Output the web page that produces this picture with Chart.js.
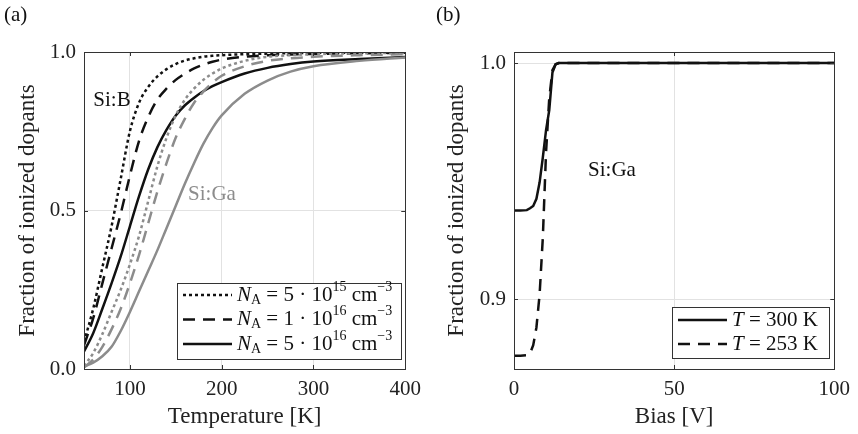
<!doctype html>
<html lang="en">
<head>
<meta charset="UTF-8">
<title>Fraction of ionized dopants</title>
<script src="https://cdn.jsdelivr.net/npm/chart.js@4.4.1/dist/chart.umd.min.js"></script>
<style>
  html, body { margin: 0; padding: 0; background: #fff; }
  .wrap { display: flex; width: 858px; height: 434px; }
  .panel { width: 429px; height: 434px; }
</style>
</head>
<body>
<div class="wrap">
  <div class="panel"><canvas id="chartA" width="429" height="434"></canvas></div>
  <div class="panel"><canvas id="chartB" width="429" height="434"></canvas></div>
</div>
<script>
// (a) fraction vs temperature, Si:B (black) and Si:Ga (gray)
const temps = [50, 60, 70, 80, 90, 100, 110, 120, 130, 140, 150, 160, 170, 180, 190, 200, 225, 250, 275, 300, 350, 400];
const bDot  = [0.085, 0.19, 0.32, 0.45, 0.60, 0.75, 0.84, 0.89, 0.923, 0.946, 0.962, 0.973, 0.980, 0.985, 0.988, 0.990, 0.993, 0.995, 0.996, 0.997, 0.998, 0.998];
const bDash = [0.075, 0.16, 0.27, 0.38, 0.49, 0.61, 0.72, 0.795, 0.85, 0.885, 0.912, 0.932, 0.948, 0.960, 0.969, 0.976, 0.985, 0.990, 0.992, 0.994, 0.996, 0.997];
const bSol  = [0.055, 0.113, 0.19, 0.27, 0.355, 0.45, 0.545, 0.63, 0.70, 0.755, 0.80, 0.832, 0.856, 0.876, 0.892, 0.905, 0.932, 0.950, 0.962, 0.970, 0.978, 0.984];
const gDot  = [0.01, 0.05, 0.11, 0.18, 0.25, 0.33, 0.42, 0.53, 0.64, 0.73, 0.80, 0.85, 0.885, 0.912, 0.932, 0.948, 0.972, 0.985, 0.990, 0.993, 0.996, 0.997];
const gDash = [0.005, 0.03, 0.07, 0.125, 0.19, 0.27, 0.36, 0.46, 0.56, 0.65, 0.73, 0.79, 0.84, 0.875, 0.903, 0.925, 0.955, 0.972, 0.980, 0.985, 0.990, 0.993];
const gSol  = [0.008, 0.02, 0.04, 0.07, 0.12, 0.18, 0.245, 0.31, 0.375, 0.445, 0.515, 0.585, 0.65, 0.71, 0.76, 0.80, 0.868, 0.910, 0.938, 0.955, 0.972, 0.983];
const tempTicks = [100, 200, 300, 400];
const fracTicks = [0, 0.5, 1];

// (b) fraction vs bias, Si:Ga
const bias   = [0, 2, 4, 5, 6, 7, 8, 9, 10, 11, 12, 13, 14, 20, 40, 60, 80, 100];
const t300 = [0.9375, 0.9375, 0.9377, 0.9385, 0.9395, 0.9425, 0.9495, 0.960, 0.9715, 0.980, 0.996, 0.9995, 1.0, 1.0, 1.0, 1.0, 1.0, 1.0];
const t253 = [0.876, 0.876, 0.8762, 0.877, 0.8805, 0.888, 0.902, 0.926, 0.962, 0.985, 0.997, 0.9995, 1.0, 1.0, 1.0, 1.0, 1.0, 1.0];
const biasTicks = [0, 50, 100];
const fracTicksB = [0.9, 1.0];

const SERIF = "'Liberation Serif', 'Times New Roman', serif";
const BLACK = '#111111';
const GRAY = '#8c8c8c';
const DOT = [3, 3];
const DASH = [12, 8];

Chart.defaults.font.family = SERIF;
Chart.defaults.color = '#222';

function pts(xs, ys) {
  return xs.map((x, i) => ({ x: x, y: ys[i] }));
}

function line(label, xs, ys, color, dash, smooth) {
  return {
    label: label,
    data: pts(xs, ys),
    borderColor: color,
    borderWidth: 2.5,
    borderDash: dash,
    borderCapStyle: 'butt',
    pointRadius: 0,
    fill: false,
    tension: 0,
    cubicInterpolationMode: smooth ? 'monotone' : 'default'
  };
}

// draw a run of text pieces (italic, sub, sup) starting at x
function richText(ctx, x, y, parts) {
  parts.forEach(p => {
    const size = p.small ? 14 : 21;
    ctx.font = (p.it ? 'italic ' : '') + size + 'px ' + SERIF;
    ctx.fillText(p.t, x, y + (p.dy || 0));
    x += ctx.measureText(p.t).width;
  });
}

// frame, inward ticks, legend and labels
const decor = {
  id: 'decor',
  afterDraw(chart, args, o) {
    const ctx = chart.ctx;
    const a = chart.chartArea;
    const xs = chart.scales.x, ys = chart.scales.y;
    ctx.save();
    ctx.strokeStyle = '#333';
    ctx.lineWidth = 1;
    ctx.beginPath();
    xs.ticks.forEach(t => {
      const px = Math.round(xs.getPixelForValue(t.value)) + 0.5;
      ctx.moveTo(px, a.bottom); ctx.lineTo(px, a.bottom - 4);
      ctx.moveTo(px, a.top); ctx.lineTo(px, a.top + 4);
    });
    ys.ticks.forEach(t => {
      const py = Math.round(ys.getPixelForValue(t.value)) + 0.5;
      ctx.moveTo(a.left, py); ctx.lineTo(a.left + 4, py);
      ctx.moveTo(a.right, py); ctx.lineTo(a.right - 4, py);
    });
    ctx.stroke();
    ctx.strokeRect(Math.round(a.left) + 0.5, Math.round(a.top) + 0.5,
      Math.round(a.right - a.left), Math.round(a.bottom - a.top));

    // legend box
    const L = o.legend;
    ctx.fillStyle = '#fff';
    ctx.fillRect(L.x, L.y, L.w, L.h);
    ctx.strokeRect(L.x + 0.5, L.y + 0.5, L.w, L.h);
    L.rows.forEach((r, i) => {
      const ds = chart.data.datasets[r.ds];
      const y = L.y + L.first + i * L.step;
      ctx.strokeStyle = ds.borderColor;
      ctx.lineWidth = ds.borderWidth;
      ctx.setLineDash(ds.borderDash || []);
      ctx.beginPath();
      ctx.moveTo(L.x + 6, y); ctx.lineTo(L.x + 55, y);
      ctx.stroke();
      ctx.setLineDash([]);
      ctx.fillStyle = BLACK;
      ctx.textBaseline = 'middle';
      ctx.textAlign = 'left';
      richText(ctx, L.x + 60, y, r.parts);
    });

    // panel letter and annotations
    ctx.textBaseline = 'middle';
    ctx.textAlign = 'left';
    ctx.font = '21px ' + SERIF;
    ctx.fillStyle = BLACK;
    ctx.fillText(o.letter.t, o.letter.x, o.letter.y);
    o.notes.forEach(n => {
      ctx.fillStyle = n.c;
      ctx.textAlign = 'center';
      ctx.fillText(n.t, n.x, n.y);
    });
    ctx.restore();
  }
};

function axis(min, max, ticks, title, fit, tpad) {
  return {
    type: 'linear',
    min: min,
    max: max,
    afterBuildTicks: s => { s.ticks = ticks.map(v => ({ value: v })); },
    afterFit: fit,
    grid: { color: '#e2e2e2', lineWidth: 1, drawTicks: false },
    border: { display: false },
    ticks: { font: { size: 21 }, padding: 8, maxRotation: 0 },
    title: { display: true, text: title, font: { size: 23 }, color: '#222', padding: tpad }
  };
}

const naRow = (m, e) => [
  { t: 'N', it: true }, { t: 'A', small: true, dy: 5 }, { t: ' = ' + m + ' · 10' },
  { t: e, small: true, dy: -8 }, { t: ' cm' }, { t: '−3', small: true, dy: -8 }
];

const xA = axis(50, 400, tempTicks, 'Temperature [K]', s => { s.height = 65; }, { bottom: 3 });
const yA = axis(0, 1, fracTicks, 'Fraction of ionized dopants', s => { s.width = 84; }, { top: 14 });
yA.ticks.callback = v => v.toFixed(1);

new Chart(document.getElementById('chartA'), {
  type: 'line',
  data: {
    datasets: [
      line('Si:Ga 5e15', temps, gDot, GRAY, DOT, true),
      line('Si:Ga 1e16', temps, gDash, GRAY, DASH, true),
      line('Si:Ga 5e16', temps, gSol, GRAY, [], true),
      line('Si:B 5e15', temps, bDot, BLACK, DOT, true),
      line('Si:B 1e16', temps, bDash, BLACK, DASH, true),
      line('Si:B 5e16', temps, bSol, BLACK, [], true)
    ]
  },
  options: {
    responsive: false,
    animation: false,
    layout: { padding: { top: 52, right: 20, left: 0, bottom: 0 } },
    scales: { x: xA, y: yA },
    plugins: {
      legend: { display: false },
      tooltip: { enabled: false },
      decor: {
        letter: { t: '(a)', x: 4, y: 15 },
        notes: [
          { t: 'Si:B', x: 112, y: 100, c: BLACK },
          { t: 'Si:Ga', x: 212, y: 194, c: GRAY }
        ],
        legend: {
          x: 177, y: 283, w: 224, h: 76, first: 12, step: 24.5,
          rows: [
            { ds: 3, parts: naRow('5', '15') },
            { ds: 4, parts: naRow('1', '16') },
            { ds: 5, parts: naRow('5', '16') }
          ]
        }
      }
    }
  },
  plugins: [decor]
});

const xB = axis(0, 100, biasTicks, 'Bias [V]', s => { s.height = 65; }, { bottom: 3 });
const yB = axis(0.8704, 1.0047, fracTicksB, 'Fraction of ionized dopants', s => { s.width = 85; }, { top: 14 });
yB.ticks.callback = v => v.toFixed(1);

new Chart(document.getElementById('chartB'), {
  type: 'line',
  data: {
    datasets: [
      line('T = 300 K', bias, t300, BLACK, [], false),
      line('T = 253 K', bias, t253, BLACK, DASH, false)
    ]
  },
  options: {
    responsive: false,
    animation: false,
    layout: { padding: { top: 52, right: 19, left: 0, bottom: 0 } },
    scales: { x: xB, y: yB },
    plugins: {
      legend: { display: false },
      tooltip: { enabled: false },
      decor: {
        letter: { t: '(b)', x: 7, y: 15 },
        notes: [{ t: 'Si:Ga', x: 183, y: 170, c: BLACK }],
        legend: {
          x: 243, y: 307, w: 157, h: 51, first: 13, step: 24,
          rows: [
            { ds: 0, parts: [{ t: 'T', it: true }, { t: ' = 300 K' }] },
            { ds: 1, parts: [{ t: 'T', it: true }, { t: ' = 253 K' }] }
          ]
        }
      }
    }
  },
  plugins: [decor]
});
</script>
</body>
</html>
